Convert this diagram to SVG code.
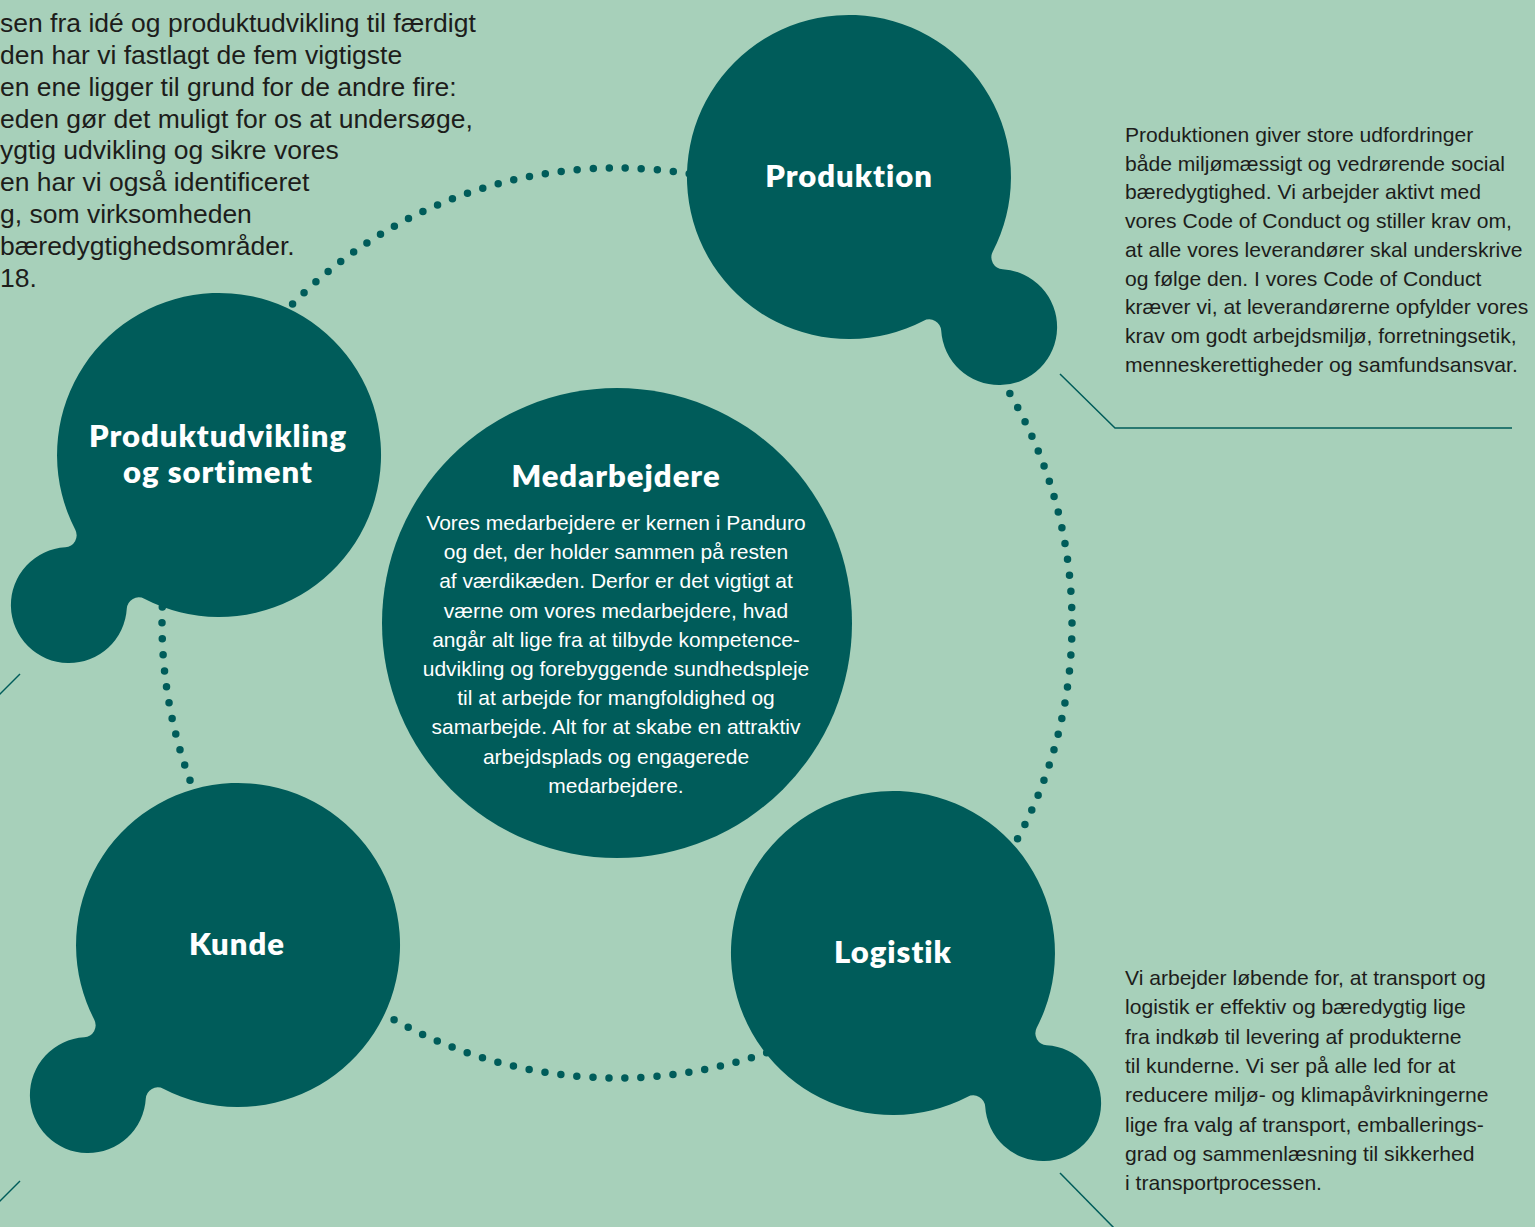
<svg xmlns="http://www.w3.org/2000/svg" width="1535" height="1227" viewBox="0 0 1535 1227">
  <style>
    .bg { fill: #a7d0ba; }
    .teal { fill: #005c5a; }
    .ring { fill: none; stroke: #005c5a; stroke-width: 7.5; stroke-linecap: round; stroke-dasharray: 0 16.06; }
    .lead { fill: none; stroke: #005c5a; stroke-width: 1.5; }
    .title { font-family: Lato, "Noto Sans", sans-serif; font-weight: 800; font-size: 31px; letter-spacing: 1px; fill: #ffffff; text-anchor: middle; }
    .body { font-family: "Liberation Sans", Arial, sans-serif; font-size: 21.1px; fill: #1d1d1b; }
    .bodyw { font-family: "Liberation Sans", Arial, sans-serif; font-size: 21px; fill: #ffffff; text-anchor: middle; }
    .intro { font-family: "Liberation Sans", Arial, sans-serif; font-size: 26.5px; fill: #1d1d1b; }
  </style>
  <defs>
    <path id="blob" d="M 143.7 74.7 A 162 162 0 1 0 74.7 143.7 A 12 12 0 0 1 92.2 153.6 A 58 58 0 1 0 153.6 92.2 A 12 12 0 0 1 143.7 74.7 Z"/>
  </defs>
  <rect class="bg" x="0" y="0" width="1535" height="1227"/>

  <g id="intro-text" class="intro">
    <text x="0" y="32">sen fra idé og produktudvikling til færdigt</text>
    <text x="0" y="64">den har vi fastlagt de fem vigtigste</text>
    <text x="0" y="96">en ene ligger til grund for de andre fire:</text>
    <text x="0" y="128">eden gør det muligt for os at undersøge,</text>
    <text x="0" y="159">ygtig udvikling og sikre vores</text>
    <text x="0" y="191">en har vi også identificeret</text>
    <text x="0" y="223">g, som virksomheden</text>
    <text x="0" y="255">bæredygtighedsområder.</text>
    <text x="0" y="287">18.</text>
  </g>

  <g id="connectors">
    <circle class="ring" cx="617" cy="623" r="455"/>
    <polyline class="lead" points="1060,374 1115,428 1512,428"/>
    <line class="lead" x1="1060" y1="1173" x2="1115" y2="1229"/>
    <line class="lead" x1="20" y1="674" x2="-1" y2="695"/>
    <line class="lead" x1="20" y1="1181" x2="-1" y2="1202"/>
  </g>

  <g id="node-produktion">
    <use href="#blob" class="teal" transform="translate(849,177)"/>
    <text class="title" x="849" y="187">Produktion</text>
  </g>

  <g id="node-produktudvikling">
    <use href="#blob" class="teal" transform="translate(219,455) scale(-1,1)"/>
    <text class="title" x="218" y="447">Produktudvikling</text>
    <text class="title" x="218" y="483">og sortiment</text>
  </g>

  <g id="node-kunde">
    <use href="#blob" class="teal" transform="translate(238,945) scale(-1,1)"/>
    <text class="title" x="237" y="955">Kunde</text>
  </g>

  <g id="node-logistik">
    <use href="#blob" class="teal" transform="translate(893,953)"/>
    <text class="title" x="893" y="963">Logistik</text>
  </g>

  <g id="node-medarbejdere">
    <circle class="teal" cx="617" cy="623" r="235"/>
    <text class="title" x="616" y="487">Medarbejdere</text>
    <text class="bodyw" x="616" y="530">Vores medarbejdere er kernen i Panduro</text>
    <text class="bodyw" x="616" y="559.2">og det, der holder sammen på resten</text>
    <text class="bodyw" x="616" y="588.4">af værdikæden. Derfor er det vigtigt at</text>
    <text class="bodyw" x="616" y="617.6">værne om vores medarbejdere, hvad</text>
    <text class="bodyw" x="616" y="646.8">angår alt lige fra at tilbyde kompetence-</text>
    <text class="bodyw" x="616" y="676">udvikling og forebyggende sundhedspleje</text>
    <text class="bodyw" x="616" y="705.2">til at arbejde for mangfoldighed og</text>
    <text class="bodyw" x="616" y="734.4">samarbejde. Alt for at skabe en attraktiv</text>
    <text class="bodyw" x="616" y="763.6">arbejdsplads og engagerede</text>
    <text class="bodyw" x="616" y="792.8">medarbejdere.</text>
  </g>

  <g id="text-produktion" class="body">
    <text x="1125" y="142">Produktionen giver store udfordringer</text>
    <text x="1125" y="170.7">både miljømæssigt og vedrørende social</text>
    <text x="1125" y="199.4">bæredygtighed. Vi arbejder aktivt med</text>
    <text x="1125" y="228.1">vores Code of Conduct og stiller krav om,</text>
    <text x="1125" y="256.8">at alle vores leverandører skal underskrive</text>
    <text x="1125" y="285.5">og følge den. I vores Code of Conduct</text>
    <text x="1125" y="314.2">kræver vi, at leverandørerne opfylder vores</text>
    <text x="1125" y="342.9">krav om godt arbejdsmiljø, forretningsetik,</text>
    <text x="1125" y="371.6">menneskerettigheder og samfundsansvar.</text>
  </g>

  <g id="text-logistik" class="body">
    <text x="1125" y="985">Vi arbejder løbende for, at transport og</text>
    <text x="1125" y="1014.3">logistik er effektiv og bæredygtig lige</text>
    <text x="1125" y="1043.6">fra indkøb til levering af produkterne</text>
    <text x="1125" y="1072.9">til kunderne. Vi ser på alle led for at</text>
    <text x="1125" y="1102.2">reducere miljø- og klimapåvirkningerne</text>
    <text x="1125" y="1131.5">lige fra valg af transport, emballerings-</text>
    <text x="1125" y="1160.8">grad og sammenlæsning til sikkerhed</text>
    <text x="1125" y="1190.1">i transportprocessen.</text>
  </g>
</svg>
